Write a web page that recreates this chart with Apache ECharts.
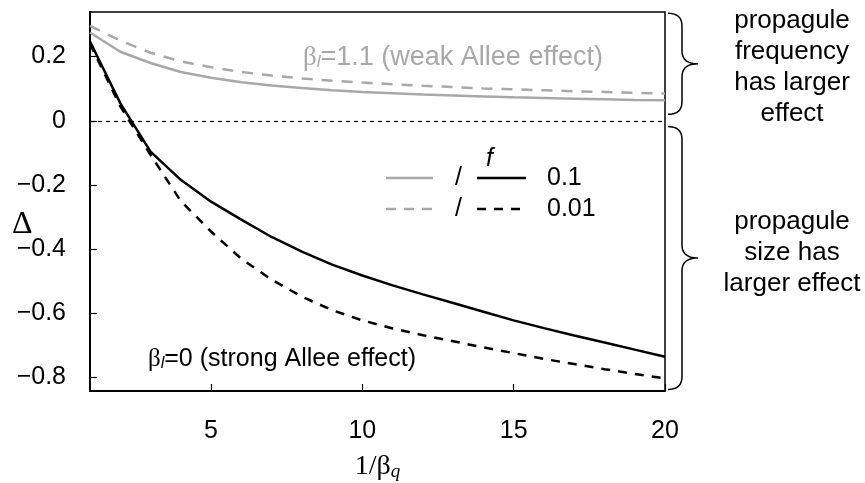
<!DOCTYPE html>
<html>
<head>
<meta charset="utf-8">
<script src="https://cdn.jsdelivr.net/npm/echarts@6/dist/echarts.min.js"></script>
<style>
html,body{margin:0;padding:0;background:#fff;}
#chart{width:865px;height:483px;}
</style>
</head>
<body>
<div id="chart"></div>
<script>
// ---- data ----
const xs = [1,2,3,4,5,6,7,8,9,10,11,12,13,14,15,16,17,18,19,20];
// beta_l = 1.1 (weak Allee effect)
const weakF01  = [0.275,0.215,0.180,0.152,0.134,0.120,0.110,0.102,0.095,0.090,0.086,0.082,0.079,0.076,0.073,0.071,0.069,0.067,0.065,0.064];
const weakF001 = [0.296,0.250,0.212,0.185,0.167,0.152,0.141,0.132,0.125,0.119,0.114,0.109,0.105,0.101,0.098,0.095,0.092,0.090,0.087,0.085];
// beta_l = 0 (strong Allee effect)
const strongF01  = [0.247,0.055,-0.096,-0.184,-0.252,-0.308,-0.362,-0.408,-0.448,-0.482,-0.513,-0.541,-0.568,-0.595,-0.622,-0.646,-0.669,-0.691,-0.713,-0.735];
const strongF001 = [0.240,0.045,-0.106,-0.250,-0.345,-0.430,-0.495,-0.548,-0.590,-0.622,-0.647,-0.668,-0.687,-0.706,-0.724,-0.742,-0.758,-0.774,-0.789,-0.803];
const xTicks = [5,10,15,20];
const yTicks = [-0.8,-0.6,-0.4,-0.2,0,0.2];
const yRange = [-0.842, 0.339];
const xRange = [1, 20];

const GRAY = '#a8a8a8';
const SANS = 'Liberation Sans, Arial, sans-serif';
const SERIF = 'Liberation Serif, Times New Roman, serif';

const pairs = arr => xs.map((x,i)=>[x,arr[i]]);

const chart = echarts.init(document.getElementById('chart'), null, {renderer:'canvas'});

const option = {
  animation:false,
  grid:{left:90,right:200,top:12,bottom:92,show:true,borderColor:'#000',borderWidth:1.5,
        backgroundColor:'transparent',containLabel:false,outerBoundsMode:'none'},
  xAxis:{
    type:'value',min:xRange[0],max:xRange[1],
    axisLine:{show:true,onZero:false,lineStyle:{color:'#000',width:2}},
    axisTick:{show:true,inside:true,length:7,customValues:xTicks,lineStyle:{color:'#000',width:1.2}},
    axisLabel:{customValues:xTicks,margin:28,fontSize:25,color:'#000',fontFamily:SANS},
    splitLine:{show:false},
    name:'{a|1/β}{q|q}',nameLocation:'middle',nameGap:56,
    nameTextStyle:{rich:{
      a:{fontSize:28,fontFamily:SERIF,color:'#000',lineHeight:34,verticalAlign:'bottom'},
      q:{fontSize:19,fontFamily:SERIF,fontStyle:'italic',color:'#000',lineHeight:28,verticalAlign:'bottom'}
    }}
  },
  yAxis:{
    type:'value',min:yRange[0],max:yRange[1],
    axisLine:{show:true,onZero:false,lineStyle:{color:'#000',width:2}},
    axisTick:{show:true,inside:true,length:7,customValues:yTicks,lineStyle:{color:'#000',width:1.2}},
    axisLabel:{customValues:yTicks,margin:24,fontSize:25,color:'#000',fontFamily:SANS,
      formatter:v=>{ if (Math.abs(v)<1e-9) return '0'; return (v<0?'\u2212':'')+Math.abs(v).toFixed(1);} },
    splitLine:{show:false}
  },
  series:[
    {type:'line',name:'weak f=0.1',data:pairs(weakF01),symbol:'none',lineStyle:{color:GRAY,width:2.5},z:2},
    {type:'line',name:'weak f=0.01',data:pairs(weakF001),symbol:'none',lineStyle:{color:GRAY,width:2.5,type:[11,9]},z:2},
    {type:'line',name:'strong f=0.1',data:pairs(strongF01),symbol:'none',lineStyle:{color:'#000',width:2.5},z:3,
      markLine:{silent:true,symbol:'none',label:{show:false},
        lineStyle:{color:'#000',width:1.2,type:[4,4]},data:[{yAxis:0}]}},
    {type:'line',name:'strong f=0.01',data:pairs(strongF001),symbol:'none',lineStyle:{color:'#000',width:2.5,type:[9,8]},z:3}
  ]
};
chart.setOption(option);

// ---- annotations ----
const xR = chart.convertToPixel({gridIndex:0},[20,0])[0];
const py = v => chart.convertToPixel({gridIndex:0},[1,v])[1];
function quad(p0,c,p1,n){
  const out=[];
  for(let i=0;i<=n;i++){const t=i/n,u=1-t;
    out.push([u*u*p0[0]+2*u*t*c[0]+t*t*p1[0], u*u*p0[1]+2*u*t*c[1]+t*t*p1[1]]);}
  return out;
}
function brace(y0,y1){
  const bx = xR+3, xm = xR+17, xt = xR+33, ym=(y0+y1)/2, r=13;
  let pts=[];
  pts=pts.concat(quad([bx,y0],[xm,y0],[xm,y0+r],12));
  pts=pts.concat(quad([xm,ym-r],[xm,ym],[xt,ym],12));
  pts=pts.concat(quad([xt,ym],[xm,ym],[xm,ym+r],12));
  pts=pts.concat(quad([xm,y1-r],[xm,y1],[bx,y1],12));
  return {type:'polyline',shape:{points:pts},style:{stroke:'#000',fill:null,lineWidth:1.5}};
}
const subRich = (col,fs)=>({
  b:{fontSize:fs,fontFamily:SERIF,fill:col,lineHeight:fs+5,verticalAlign:'bottom'},
  s:{fontSize:Math.round(fs*0.64),fontFamily:SANS,fontStyle:'italic',fill:col,lineHeight:fs-1,verticalAlign:'bottom'},
  t:{fontSize:fs,fontFamily:SANS,fill:col,lineHeight:fs+5,verticalAlign:'bottom'}
});
const legendDash = (x1,x2,y,col,dash)=>({type:'line',shape:{x1,y1:y,x2,y2:y},style:{stroke:col,lineWidth:2.5,lineDash:dash}});
const txt = (x,y,text,extra)=>Object.assign({type:'text',x,y,style:Object.assign({text,fontSize:25,fontFamily:SANS,fill:'#000',textVerticalAlign:'middle'},extra||{})});

chart.setOption({graphic:[
  brace(py(0.335),py(0.02)),
  brace(py(-0.018),py(-0.837)),
  txt(792,67,'propagule\nfrequency\nhas larger\neffect',{textAlign:'center',lineHeight:31,fontSize:26}),
  txt(792,253,'propagule\nsize has\nlarger effect',{textAlign:'center',lineHeight:31,fontSize:26}),
  {type:'text',x:303,y:55,style:{text:'{b|β}{s|l}{t|=1.1 (weak Allee effect)}',rich:subRich(GRAY,27),fill:GRAY,textVerticalAlign:'middle'}},
  {type:'text',x:148,y:357,style:{text:'{b|β}{s|l}{t|=0 (strong Allee effect)}',rich:subRich('#000',25),fill:'#000',textVerticalAlign:'middle'}},
  txt(12,225,'Δ',{fontFamily:SERIF,fontSize:32}),
  txt(486,159,'f',{fontStyle:'italic'}),
  legendDash(386,433,178,GRAY,null),
  txt(455,178,'/'),
  legendDash(477,526,178,'#000',null),
  txt(547,178,'0.1'),
  legendDash(386,433,209,GRAY,[10,8]),
  txt(455,209,'/'),
  legendDash(477,526,209,'#000',[9,8]),
  txt(547,209,'0.01')
]});
</script>
</body>
</html>
